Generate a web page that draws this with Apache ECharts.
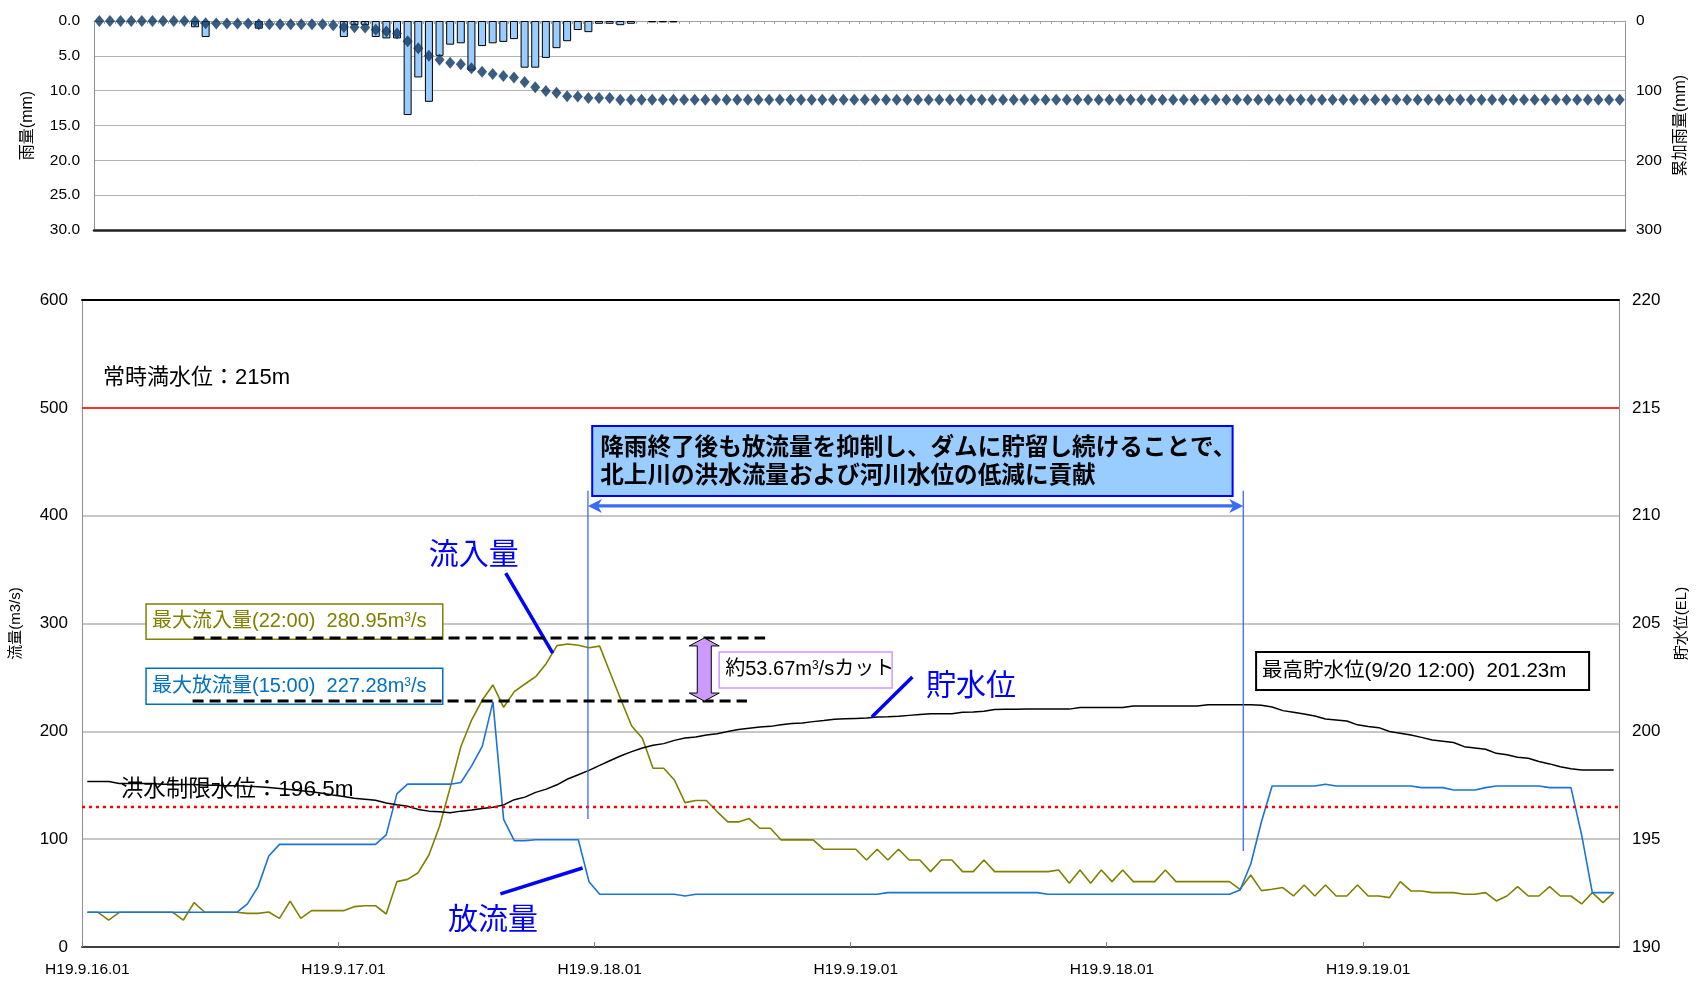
<!DOCTYPE html>
<html><head><meta charset="utf-8">
<script src="https://cdn.jsdelivr.net/npm/echarts@6/dist/echarts.min.js"></script>
<style>html,body{margin:0;padding:0;background:#fff}#c{width:1697px;height:981px}</style>
</head><body><div id="c"></div>
<script>
// ---------- data ----------
const tickLabels = ['H19.9.16.01','H19.9.17.01','H19.9.18.01','H19.9.19.01','H19.9.18.01','H19.9.19.01'];

// hourly rainfall (mm)
const rain = [0,0,0,0,0,0,0,0,0,0.9,2.3,0,0,0,0,1.1,0,0,0,0,0,0,0,2.3,0.6,0.6,2.3,2.5,2.5,13.5,
  8.1,11.6,5.0,3.4,3.2,7.1,3.6,3.2,3.0,2.6,6.7,6.7,5.3,3.9,2.9,1.3,1.6,0.4,0.4,0.6,
  0.4,0,0.2,0.2,0.2,0,0,0,0,0,0,0,0,0,0,0,0,0,0,0,0,0,0,0,0,0,0,0,0,0,
  0,0,0,0,0,0,0,0,0,0,0,0,0,0,0,0,0,0,0,0,0,0,0,0,0,0,0,0,0,0,
  0,0,0,0,0,0,0,0,0,0,0,0,0,0,0,0,0,0,0,0,0,0,0,0,0,0,0,0,0,0,0,0,0,0];

// cumulative rainfall (mm)
const rainCum = [0,0,0,0,0,0,0,0,0,0.5,3.2,3.5,3.5,3.5,3.5,4.5,4.5,4.5,4.5,4.5,4.5,4.5,6,8.5,9,9.5,12.5,15,18,29,
  39,50,55.5,60,62,68,73,76,79,81,87.5,95,100.5,103,108,108.5,110.5,110.5,110.5,113,
  113,113,113,113,113,113,113,113,113,113,113,113,113,113,113,113,113,113,113,113,113,113,113,113,113,113,113,113,113,113,
  113,113,113,113,113,113,113,113,113,113,113,113,113,113,113,113,113,113,113,113,113,113,113,113,113,113,113,113,113,113,
  113,113,113,113,113,113,113,113,113,113,113,113,113,113,113,113,113,113,113,113,113,113,113,113,113,113,113,113,113,113,113,113,113,113];

// inflow (m3/s)
const inflow = [32.2,32.2,25.0,32.2,32.2,32.2,32.2,32.2,32.2,25.0,41.1,32.2,32.2,32.2,32.2,31.2,31.2,32.5,26.6,42.6,
  26.6,33.7,33.7,33.7,33.7,37.4,38.3,38.3,30.6,60.6,62.7,68.9,85.3,112,148,186,210.5,229,243,222.3,
  236.8,243.9,250.7,263,279.5,280.95,279.8,277.5,279,253.8,229,204.9,193.5,165.7,165.7,154.9,133.9,135.8,135.8,125.6,
  116,116,119.1,110.1,110.1,99.3,99.3,99.3,99.3,90.6,90.6,90.6,90.6,80.7,90.6,80.7,90.6,80.7,80.7,69.9,
  80.7,80.7,69.9,69.9,80.7,69.9,69.9,69.9,69.9,69.9,69.9,71.4,59.1,71.4,59.1,71.4,60.6,71.4,60.6,60.6,
  60.6,71.4,60.6,60.6,60.6,60.6,60.6,60.6,53.5,66.8,52.3,53.5,55.1,47.3,57.5,47.3,57.5,47.3,47.3,57.5,
  47.3,47.3,45.8,60.6,52,52,50.4,50.4,50.4,48.9,48.9,50.4,42.7,47.3,55.9,47.3,47.3,55.9,47.3,47.3,
  39.9,50.4,41.1,50.4];

// outflow (m3/s)
const outflow = [32.2,32.2,32.2,32.2,32.2,32.2,32.2,32.2,32.2,32.2,32.2,32.2,32.2,32.2,32.2,40,56,84.4,95.2,95.2,
  95.2,95.2,95.2,95.2,95.2,95.2,95.2,95.2,104,142,151,151,151,151,151,152.5,168,186,227.28,118.4,
  98.6,98.6,99.5,99.5,99.5,99.5,99.5,60.6,48.9,48.9,48.9,48.9,48.9,48.9,48.9,48.9,47.3,48.9,48.9,48.9,
  48.9,48.9,48.9,48.9,48.9,48.9,48.9,48.9,48.9,48.9,48.9,48.9,48.9,48.9,48.9,50.4,50.4,50.4,50.4,50.4,
  50.4,50.4,50.4,50.4,50.4,50.4,50.4,50.4,50.4,50.4,48.9,48.9,48.9,48.9,48.9,48.9,48.9,48.9,48.9,48.9,
  48.9,48.9,48.9,48.9,48.9,48.9,48.9,48.9,52.9,77,116.2,149.3,149.3,149.3,149.3,149.3,150.9,149.3,149.3,149.3,
  149.3,149.3,149.3,149.3,149.3,147.8,147.8,147.8,145.6,145.6,145.6,147.8,149.3,149.3,149.3,149.3,149.3,147.8,147.8,147.8,
  103.9,50.4,50.4,50.4];

// reservoir water level (EL m)
const waterLevel = [197.67,197.67,197.67,197.58,197.58,197.58,197.58,197.55,197.55,197.53,197.53,197.50,197.50,197.48,197.48,197.45,197.43,197.40,197.35,197.30,
  197.25,197.20,197.13,197.05,196.98,196.90,196.85,196.80,196.68,196.60,196.53,196.38,196.30,196.27,196.22,196.30,196.35,196.42,196.48,196.59,
  196.83,196.95,197.17,197.32,197.52,197.79,197.99,198.19,198.42,198.65,198.87,199.06,199.23,199.35,199.43,199.58,199.69,199.74,199.83,199.89,
  199.99,200.08,200.14,200.20,200.23,200.30,200.36,200.39,200.45,200.50,200.56,200.58,200.60,200.62,200.67,200.68,200.70,200.74,200.78,200.82,
  200.82,200.82,200.88,200.90,200.93,201.01,201.02,201.02,201.03,201.03,201.03,201.03,201.03,201.10,201.10,201.10,201.10,201.10,201.17,201.17,
  201.17,201.17,201.17,201.17,201.17,201.23,201.23,201.23,201.23,201.23,201.21,201.13,200.96,200.88,200.80,200.71,200.57,200.53,200.48,200.30,
  200.22,200.17,199.99,199.91,199.83,199.72,199.60,199.54,199.48,199.29,199.23,199.17,198.98,198.91,198.80,198.75,198.60,198.49,198.36,198.27,
  198.21,198.21,198.21,198.21];

// hourly categories (6 days x 24 h)
const categories = [];
for (let d = 0; d < tickLabels.length; d++) for (let h = 0; h < 24; h++) categories.push(tickLabels[d] + '+' + h);

// ---------- chart ----------
const LAT = '"Liberation Sans", Arial, "Noto Sans CJK JP", sans-serif';
const CJK = '"Noto Sans CJK JP", sans-serif';
const chart = echarts.init(document.getElementById('c'));

const option = {
  animation: false,
  backgroundColor: '#fff',
  textStyle: {fontFamily: LAT},
  grid: [
    {left: 94, top: 21, width: 1535, height: 209},
    {left: 79, top: 300, width: 1543, height: 647}
  ],
  xAxis: [
    {gridIndex:0, type:'category', data:categories, position:'top', boundaryGap:true,
     axisLine:{onZero:false, lineStyle:{color:'#a0a0a0', width:1}},
     axisTick:{show:true, interval:0, inside:true, length:3, lineStyle:{color:'#a0a0a0'}},
     axisLabel:{show:false}, splitLine:{show:false}},
    {gridIndex:1, type:'category', data:categories, position:'bottom', boundaryGap:true,
     axisLine:{onZero:false, lineStyle:{color:'#404040', width:2}},
     axisTick:{show:true, interval:23, inside:true, length:5, lineStyle:{color:'#808080'}},
     axisLabel:{interval:23, margin:15, fontSize:15.5, color:'#000', fontFamily:LAT,
       formatter:(v, idx) => (idx % 24 === 0 ? tickLabels[idx / 24] : '')},
     splitLine:{show:false}},
    {gridIndex:1, type:'value', min:0, max:144, position:'top',
     axisLine:{show:true, onZero:false, lineStyle:{color:'#000', width:2}},
     axisTick:{show:false}, axisLabel:{show:false}, splitLine:{show:false}},
    {gridIndex:0, type:'value', min:0, max:1, position:'bottom',
     axisLine:{show:true, onZero:false, lineStyle:{color:'#222', width:2.5}},
     axisTick:{show:false}, axisLabel:{show:false}, splitLine:{show:false}}
  ],
  yAxis: [
    {gridIndex:0, type:'value', min:0, max:30, interval:5, inverse:true,
     name:'雨量(mm)', nameLocation:'middle', nameGap:58, nameRotate:90,
     nameTextStyle:{fontSize:16, color:'#000', fontFamily:LAT},
     axisLine:{show:true, onZero:false, lineStyle:{color:'#909090'}}, axisTick:{show:false},
     axisLabel:{fontSize:15.5, color:'#000', margin:14, formatter: v => v.toFixed(1)},
     splitLine:{show:true, lineStyle:{color:'#b4b4b4', width:1}}},
    {gridIndex:0, type:'value', min:0, max:300, interval:100, inverse:true, position:'right',
     name:'累加雨量(mm)', nameLocation:'middle', nameGap:48, nameRotate:90,
     nameTextStyle:{fontSize:16, color:'#000', fontFamily:LAT},
     axisLine:{show:true, onZero:false, lineStyle:{color:'#909090'}}, axisTick:{show:false},
     axisLabel:{fontSize:15.5, color:'#000', margin:11}, splitLine:{show:false}},
    {gridIndex:1, type:'value', min:0, max:600, interval:100,
     name:'流量(m3/s)', nameLocation:'middle', nameGap:59, nameRotate:90,
     nameTextStyle:{fontSize:15, color:'#000', fontFamily:LAT},
     axisLine:{show:true, onZero:false, lineStyle:{color:'#909090'}}, axisTick:{show:false},
     axisLabel:{fontSize:17, color:'#000', margin:14},
     splitLine:{show:true, lineStyle:{color:'#b4b4b4', width:1.5}}},
    {gridIndex:1, type:'value', min:190, max:220, interval:5, position:'right',
     name:'貯水位(EL)', nameLocation:'middle', nameGap:55, nameRotate:90,
     nameTextStyle:{fontSize:15, color:'#000', fontFamily:LAT},
     axisLine:{show:true, onZero:false, lineStyle:{color:'#909090'}}, axisTick:{show:false},
     axisLabel:{fontSize:17, color:'#000', margin:13}, splitLine:{show:false}}
  ],
  series: [
    {name:'雨量', type:'bar', xAxisIndex:0, yAxisIndex:0, barWidth:8,
     data: rain.map(v => (v === 0 ? null : v)),
     itemStyle:{color:'#99ccff', borderColor:'#000', borderWidth:1}},
    {name:'累加雨量', type:'scatter', xAxisIndex:0, yAxisIndex:1, symbol:'diamond', symbolSize:[10, 12],
     data: rainCum, itemStyle:{color:'#0b3463'}, z:3},
    {name:'流入量', type:'line', xAxisIndex:1, yAxisIndex:2, data: inflow, symbol:'none',
     lineStyle:{color:'#808000', width:1.6}, itemStyle:{color:'#808000'},
     markLine:{silent:true, symbol:['none','none'], label:{show:false},
       lineStyle:{color:'#ff0000', width:1.6, type:'solid'}, data:[{yAxis:500}]}},
    {name:'放流量', type:'line', xAxisIndex:1, yAxisIndex:2, data: outflow, symbol:'none',
     lineStyle:{color:'#1a73d9', width:1.6}, itemStyle:{color:'#1a73d9'}},
    {name:'貯水位', type:'line', xAxisIndex:1, yAxisIndex:3, data: waterLevel, symbol:'none',
     lineStyle:{color:'#000', width:1.5}, itemStyle:{color:'#000'},
     markLine:{silent:true, symbol:['none','none'], label:{show:false},
       lineStyle:{color:'#ff0000', width:2.4, type:[3, 4]}, data:[{yAxis:196.5}]}}
  ]
};
chart.setOption(option);

// ---------- annotations (anchored in data units: hours on hidden axis, flow m3/s) ----------
const P = (h, v) => chart.convertToPixel({xAxisIndex:2, yAxisIndex:2}, [h, v]);
const g = [];
function line(a, b, stroke, w, dash, z) {
  g.push({type:'line', z: z || 10, shape:{x1:a[0], y1:a[1], x2:b[0], y2:b[1]},
    style:{stroke, lineWidth:w, lineDash: dash || null}});
}
function rect(a, b, fill, stroke, w, z) {
  g.push({type:'rect', z: z || 10, shape:{x:a[0], y:a[1], width:b[0]-a[0], height:b[1]-a[1]},
    style:{fill, stroke, lineWidth:w}});
}
function text(p, str, opts) {
  g.push({type:'text', z: opts.z || 12, x:p[0], y:p[1],
    style: Object.assign({text:str, fontFamily:LAT, align:'left', verticalAlign:'middle'}, opts.style)});
}

// reference line texts
text([P(1.96,0)[0], P(0,527.7)[1]], '常時満水位：215m', {z:4, style:{fontSize:22, fill:'#000'}});
text([P(3.64,0)[0], P(0,145.6)[1]], '洪水制限水位：196.5m', {z:1, style:{fontSize:22.5, fill:'#000'}});

// vertical guide lines
line(P(47.4, 423), P(47.4, 118.7), '#3a6cf4', 1.3);
line(P(108.8, 423), P(108.8, 89), '#3a6cf4', 1.3);
// horizontal double arrow
(function(){
  const a = P(47.4, 409), b = P(108.8, 409);
  line([a[0]+6, a[1]], [b[0]-6, b[1]], '#3a6cf4', 3.2);
  g.push({type:'polygon', z:11, shape:{points:[[a[0], a[1]], [a[0]+14, a[1]-7], [a[0]+10, a[1]], [a[0]+14, a[1]+7]]}, style:{fill:'#3a6cf4'}});
  g.push({type:'polygon', z:11, shape:{points:[[b[0], b[1]], [b[0]-14, b[1]-7], [b[0]-10, b[1]], [b[0]-14, b[1]+7]]}, style:{fill:'#3a6cf4'}});
})();
// callout box
(function(){
  const a = P(47.8, 483.2), b = P(107.8, 418.3);
  rect(a, b, '#99ccff', '#0000ff', 2);
  text([a[0]+8, (a[1]+b[1])/2 - 1], '降雨終了後も放流量を抑制し、ダムに貯留し続けることで、\n北上川の洪水流量および河川水位の低減に貢献',
    {style:{fontSize:23.6, fontWeight:'bold', fontFamily:CJK, fill:'#000', lineHeight:28}});
})();

// series labels + pointers
text(P(36.7, 365.4), '流入量', {style:{fontSize:30, fontFamily:CJK, fill:'#0000ff', align:'center'}});
line(P(39.7, 346.8), P(44.1, 272.6), '#0000ff', 3.5);
text(P(83.3, 243.9), '貯水位', {style:{fontSize:30, fontFamily:CJK, fill:'#0000ff', align:'center'}});
line(P(77.8, 250.4), P(74.0, 213.3), '#0000ff', 3.5);
text(P(38.5, 26.9), '放流量', {style:{fontSize:30, fontFamily:CJK, fill:'#0000ff', align:'center'}});
line(P(39.2, 49.2), P(46.9, 73.3), '#0000ff', 3.5);

// max inflow / outflow boxes, cut arrow, max level box
(function(){
  const supRich = (col) => ({a:{fontSize:20, fill:col, fontFamily:LAT}, s:{fontSize:12, fill:col, fontFamily:LAT, verticalAlign:'top'}});
  let a = P(6.0, 318.1), b = P(33.8, 285.4);
  rect(a, b, '#fff', '#808000', 1.5);
  text([a[0]+6, (a[1]+b[1])/2], '{a|最大流入量(22:00)  280.95m}{s|3}{a|/s}', {style:{rich:supRich('#808000'), fill:'#808000', fontSize:20}});
  a = P(6.0, 258.5); b = P(33.8, 225.1);
  rect(a, b, '#fff', '#0070c0', 1.5);
  text([a[0]+6, (a[1]+b[1])/2], '{a|最大放流量(15:00)  227.28m}{s|3}{a|/s}', {style:{rich:supRich('#0070c0'), fill:'#0070c0', fontSize:20}});
  line(P(10.45, 286.6), P(64.0, 286.6), '#000', 3, [11, 6], 13);
  line(P(10.36, 228.1), P(62.3, 228.1), '#000', 3, [11, 6], 13);
  const cx = P(58.3, 0)[0], top = P(0, 286.6)[1], bot = P(0, 228.1)[1];
  g.push({type:'polygon', z:14, shape:{points:[[cx, top], [cx+15, top+8], [cx+7, top+8], [cx+7, bot-8], [cx+15, bot-8], [cx, bot],
    [cx-15, bot-8], [cx-7, bot-8], [cx-7, top+8], [cx-15, top+8]]}, style:{fill:'#cc99ff', stroke:'#000', lineWidth:1}});
  a = P(59.7, 273.6); b = P(75.9, 240.2);
  rect(a, b, '#fff', '#cc99ff', 1.5);
  text([a[0]+6, (a[1]+b[1])/2], '{a|約53.67m}{s|3}{a|/sカット}', {style:{rich:supRich('#000'), fill:'#000', fontSize:20}});
  a = P(110.0, 273.6); b = P(141.2, 238.3);
  rect(a, b, '#fff', '#000', 2);
  text([a[0]+6, (a[1]+b[1])/2], '最高貯水位(9/20 12:00)  201.23m', {style:{fontSize:20.5, fill:'#000'}});
})();

chart.setOption({graphic: {elements: g}});
</script>
</body></html>
